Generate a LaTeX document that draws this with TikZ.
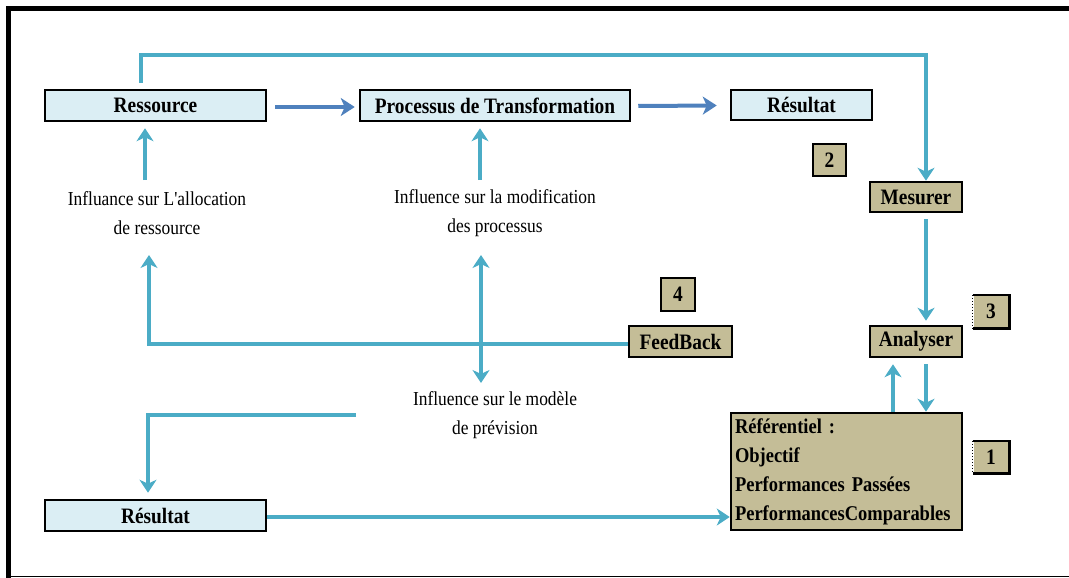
\documentclass[tikz,border=0pt]{standalone}
\usepackage{fontspec}
\setmainfont{Liberation Serif}
\newfontfamily\rfont{Liberation Serif}[FakeStretch=0.88]
\usetikzlibrary{arrows.meta,calc}
\definecolor{tealc}{HTML}{4BACC6}
\definecolor{bluec}{HTML}{4F81BD}
\definecolor{lblue}{HTML}{DBEEF4}
\definecolor{tanc}{HTML}{C4BD97}
\begin{document}
\begin{tikzpicture}[x=1pt,y=-1pt,
  bluebox/.style={draw=black,line width=2.5pt,fill=lblue,inner sep=0pt,font=\rfont\fontsize{22}{24}\selectfont\bfseries},
  tanbox/.style={draw=black,line width=2.5pt,fill=tanc,inner sep=0pt,font=\rfont\fontsize{22}{24}\selectfont\bfseries},
  lbl/.style={align=center,inner sep=0pt,font=\rfont\fontsize{19.8}{29}\selectfont},
  tealline/.style={draw=tealc,line width=4pt},
  tealhead/.tip={Stealth[length=13pt,width=17pt,inset=4pt]},
  tealarrow/.style={tealline,-tealhead},
  tealdouble/.style={tealline,tealhead-tealhead},
  bluearrow/.style={draw=bluec,line width=4pt,-{Stealth[length=14pt,width=18pt,inset=4pt]}}
]
\useasboundingbox (0,0) rectangle (1069,578);
% frame
\draw[line width=5pt] (8.5,578) -- (8.5,8.5) -- (1069,8.5);
\draw[line width=1.5pt] (8.5,576.5) -- (1069,576.5);

% boxes
\node[bluebox,minimum width=221pt,minimum height=31pt] (res) at (155.5,105.5) {Ressource};
\node[bluebox,minimum width=270pt,minimum height=31pt] (proc) at (495,105.5) {Processus de Transformation};
\node[bluebox,minimum width=141pt,minimum height=30pt] (resT) at (801.5,105) {Résultat};
\node[bluebox,minimum width=221pt,minimum height=31pt] (resB) at (155.5,515.5) {Résultat};

\node[tanbox,minimum width=92pt,minimum height=30pt] (mes) at (916,197) {Mesurer};
\node[tanbox,minimum width=92pt,minimum height=31pt] (ana) at (916,341.5) {Analyser};
\node[tanbox,minimum width=103pt,minimum height=31pt] (fb) at (680.5,341.5) {FeedBack};
\node[tanbox,minimum width=33pt,minimum height=32pt] (two) at (829.5,160) {2};
\node[tanbox,minimum width=34pt,minimum height=33pt] (four) at (678,294.5) {4};
\node[tanbox,draw=none,minimum width=34pt,minimum height=31pt] (three) at (991,311.5) {3};
\draw[line width=2.5pt] (three.north west) -- (three.north east) -- (three.south east) -- (three.south west);
\draw[line width=1pt,dotted] (three.north west) -- (three.south west);
\node[tanbox,draw=none,minimum width=34pt,minimum height=30pt] (one) at (991,457) {1};
\draw[line width=2.5pt] (one.north west) -- (one.north east) -- (one.south east) -- (one.south west);
\draw[line width=1pt,dotted] (one.north west) -- (one.south west);

\node[tanbox,minimum width=231pt,minimum height=117pt,text width=223pt,inner xsep=4pt,align=left,
  font=\rfont\fontsize{21}{29}\selectfont\bfseries] (ref) at (846.5,471.5)
  {Référentiel :\\Objectif\\Performances Passées\\PerformancesComparables};

% labels
\node[lbl] (t1) at (157,213.5) {Influance sur L'allocation\\de ressource};
\node[lbl] (t2) at (495,213.5) {Influence sur la modification\\des processus};
\node[lbl] (t3) at (495,415.5) {Influence sur le modèle\\de prévision};

% blue arrows
\draw[bluearrow] ($(res.east)+(8,1.5)$) -- ($(proc.west)+(-4,1.5)$);
\draw[bluearrow] ($(proc.east)+(7,0.5)$) -- ($(resT.west)+(-13,0.5)$);

% top loop to Mesurer
\coordinate (c1) at (926,55);
\draw[tealarrow] ($(res.north)+(-15,-6)$) |- (c1) -- (mes.north -| c1);
% Mesurer -> Analyser
\draw[tealarrow] ($(mes.south)+(10,6)$) -- ($(ana.north)+(10,-4)$);
% Analyser <-> Referentiel
\coordinate (u) at ($(ana.south)+(-23,6)$);
\coordinate (d) at ($(ana.south)+(10,6)$);
\draw[tealarrow] (u |- ref.north) -- (u);
\draw[tealarrow] (d) -- (d |- ref.north);
% labels up to boxes
\coordinate (ua) at (145,180);
\coordinate (ub) at (480,180);
\draw[tealarrow] (ua) -- ($(ua |- res.south)+(0,6)$);
\draw[tealarrow] (ub) -- ($(ub |- proc.south)+(0,6)$);
% FeedBack loop
\coordinate (fa) at (149,255);
\draw[tealarrow] ($(fb.west)+(0,2.5)$) -| (fa);
% double arrow
\coordinate (da) at (481,255);
\coordinate (db) at (481,383);
\draw[tealdouble] (da) -- (db);
% lower left
\coordinate (ll) at (356,415);
\draw[tealarrow] (ll) -| ($(resB.north)+(-7.5,-6)$);
% Resultat -> Referentiel
\coordinate (rbE) at ($(resB.east)+(0,1.5)$);
\draw[tealarrow] (rbE) -- (rbE -| ref.west);
\end{tikzpicture}
\end{document}
